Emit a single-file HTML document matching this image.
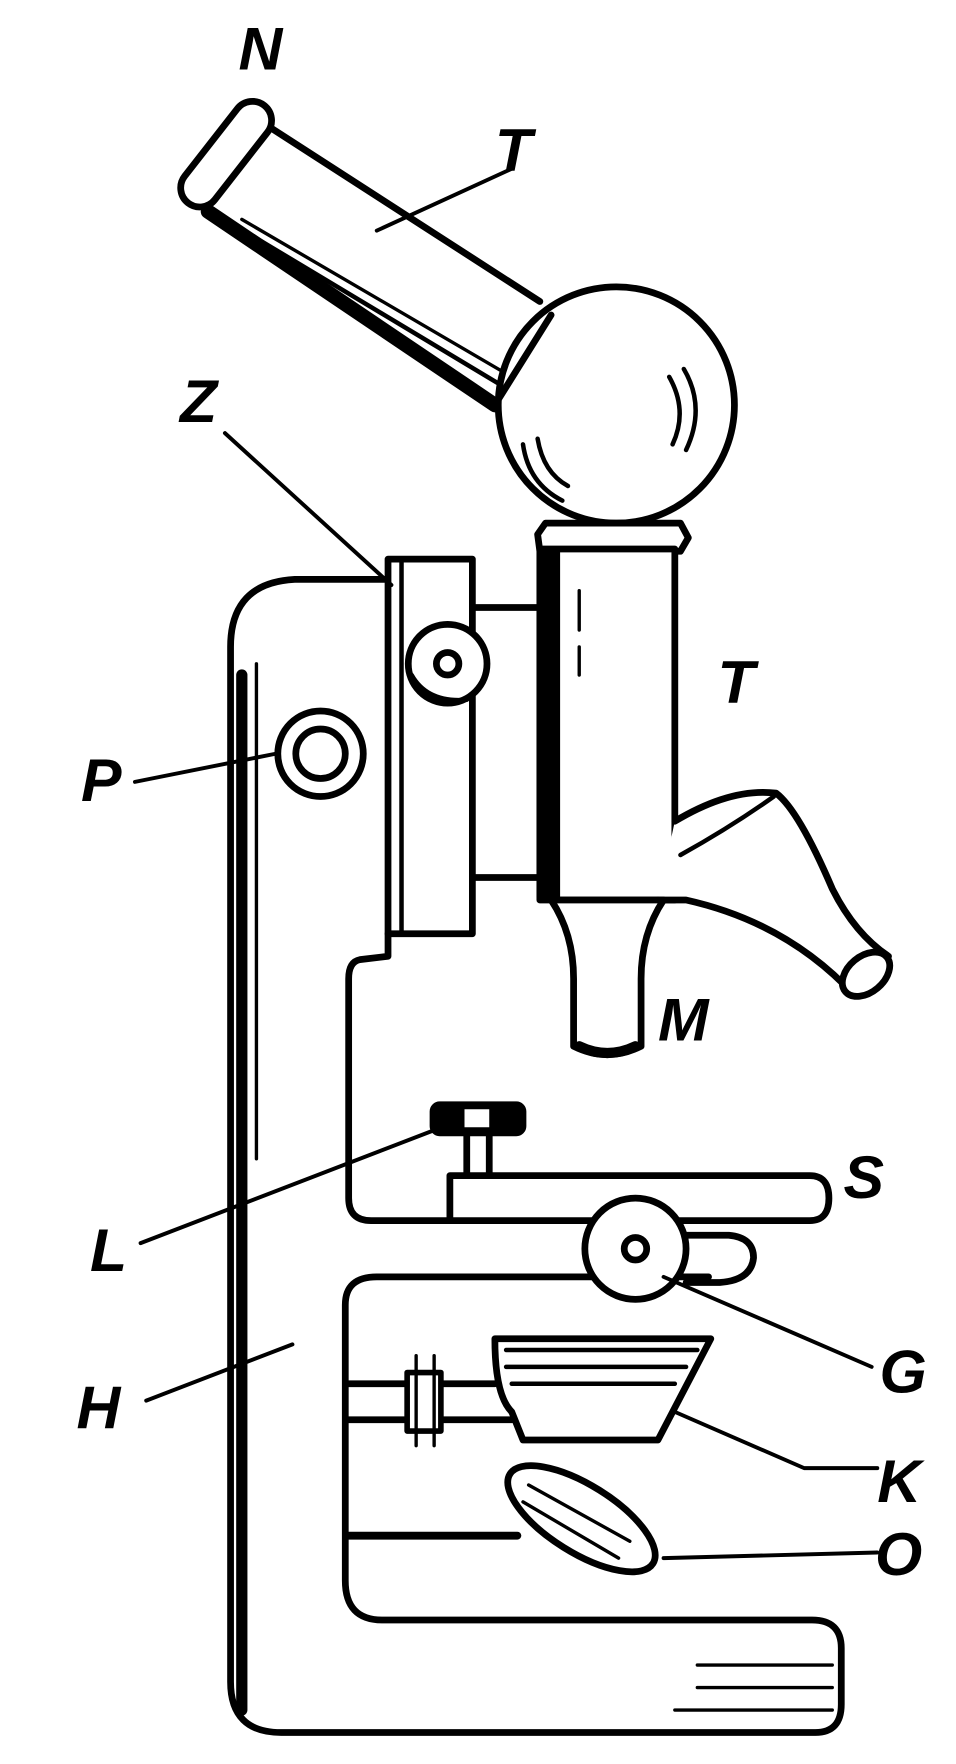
<!DOCTYPE html>
<html><head><style>
html,body{margin:0;padding:0;background:#fff;}
svg{display:block;}
text{font-family:"Liberation Sans",sans-serif;font-style:italic;font-weight:bold;font-size:54px;fill:#000;}
</style></head><body>
<svg width="956" height="1764" viewBox="0 0 850 1568" preserveAspectRatio="none" xmlns="http://www.w3.org/2000/svg">
<g fill="none" stroke="#000" stroke-width="6" stroke-linejoin="round" stroke-linecap="round">
<!-- eyepiece tube -->
<path d="M232,108 L480,268" />
<path d="M185,188 L440,360" stroke-width="13"/>
<path d="M200,195 L450,345" stroke-width="4"/>
<path d="M215,195 L455,335" stroke-width="3"/>
<rect x="148" y="122" width="110" height="34" rx="17" transform="rotate(-52 200 140)" fill="#fff"/>
<!-- head -->
<circle cx="548" cy="360" r="105" fill="#fff"/>
<path d="M440,360 L490,280" />
<path d="M465,395 Q470,430 500,445" stroke-width="4"/>
<path d="M478,390 Q483,420 505,432" stroke-width="4"/>
<path d="M595,335 Q612,365 598,395" stroke-width="4"/>
<path d="M608,328 Q628,362 610,400" stroke-width="4"/>
<!-- collar -->
<path d="M478,475 L485,465 L605,465 L612,478 L605,490 L480,490 Z" fill="#fff"/>
<!-- body tube -->
<rect x="480" y="488" width="120" height="312" fill="#fff"/>
<rect x="480" y="490" width="15" height="308" fill="#000"/>
<path d="M515,525 L515,560 M515,575 L515,600" stroke-width="3"/>
<!-- nose arm -->
<path d="M600,730 Q650,700 690,705 Q710,720 740,790 Q760,830 790,850 L760,885 Q700,820 610,800 L585,800" fill="#fff"/>
<ellipse cx="770" cy="866" rx="24" ry="16" transform="rotate(-40 770 866)" fill="#fff"/>
<path d="M605,760 Q650,735 688,708" stroke-width="4"/>
<!-- objective -->
<path d="M490,800 L590,800 Q570,830 570,870 L570,930 Q540,945 510,930 L510,870 Q510,830 490,800 Z" fill="#fff"/>
<path d="M515,930 Q540,942 565,930" stroke-width="9"/>
<!-- stand H -->
<path d="M345,515 L262,515 Q205,518 205,575 L205,1495 Q205,1540 250,1540 L725,1540 Q748,1540 748,1515 L748,1465 Q748,1440 722,1440 L340,1440 Q307,1440 307,1405 L307,1160 Q307,1135 335,1135 L630,1135"/>
<path d="M215,600 L215,1520" stroke-width="10"/>
<path d="M228,590 L228,1030" stroke-width="3"/>
<path d="M620,1480 L740,1480 M620,1500 L740,1500 M600,1520 L740,1520" stroke-width="3"/>
<path d="M345,830 L345,850 L320,853 Q310,855 310,870 L310,1065 Q310,1085 330,1085 L400,1085"/>
<!-- arm block Z -->
<rect x="345" y="497" width="75" height="333" fill="#fff"/>
<path d="M357,500 L357,828" stroke-width="4"/>
<path d="M420,540 L480,540 M420,780 L480,780"/>
<circle cx="398" cy="590" r="35" fill="#fff"/>
<circle cx="398" cy="590" r="10"/>
<path d="M366,600 Q380,625 415,622" stroke-width="4"/>
<!-- pinion P -->
<circle cx="285" cy="670" r="38" fill="#fff"/>
<circle cx="285" cy="670" r="22"/>
<!-- stage S -->
<path d="M400,1085 L400,1045 L720,1045 Q737,1045 737,1065 Q737,1085 720,1085 L400,1085"/>
<path d="M610,1098 L648,1098 Q670,1100 670,1118 Q668,1138 640,1140 L610,1140"/>
<circle cx="565" cy="1110" r="45" fill="#fff"/>
<circle cx="565" cy="1110" r="10"/>
<!-- clip L -->
<rect x="385" y="982" width="80" height="25" rx="6" fill="#000"/>
<rect x="412" y="985" width="24" height="18" fill="#fff" stroke-width="2"/>
<path d="M415,1007 L415,1045 M435,1007 L435,1045"/>
<!-- condenser K -->
<path d="M310,1230 L440,1230 M310,1262 L455,1262"/>
<rect x="362" y="1220" width="30" height="52" fill="#fff" stroke-width="5"/>
<path d="M370,1205 L370,1285 M386,1205 L386,1285" stroke-width="3"/>
<path d="M440,1190 L632,1190 L585,1280 L465,1280 L455,1255 Q440,1240 440,1190 Z" fill="#fff"/>
<path d="M450,1200 L620,1200 M450,1215 L610,1215 M455,1230 L600,1230" stroke-width="4"/>
<!-- mirror O -->
<path d="M310,1365 L460,1365" stroke-width="7"/>
<ellipse cx="517" cy="1350" rx="75" ry="30" transform="rotate(32 517 1350)" fill="#fff"/>
<path d="M470,1320 L560,1370 M465,1335 L550,1385" stroke-width="3"/>
<!-- leaders -->
<g stroke-width="3.5">
<path d="M455,150 L335,205"/>
<path d="M200,385 L348,520"/>
<path d="M120,695 L245,670"/>
<path d="M125,1105 L385,1005"/>
<path d="M130,1245 L260,1195"/>
<path d="M590,1135 L775,1215"/>
<path d="M600,1255 L715,1305 L780,1305"/>
<path d="M590,1385 L780,1380"/>
</g>
</g>
<g>
<text x="212" y="62">N</text>
<text x="440" y="152">T</text>
<text x="160" y="375">Z</text>
<text x="72" y="712">P</text>
<text x="638" y="625">T</text>
<text x="585" y="925">M</text>
<text x="80" y="1130">L</text>
<text x="750" y="1065">S</text>
<text x="68" y="1270">H</text>
<text x="782" y="1238">G</text>
<text x="780" y="1335">K</text>
<text x="778" y="1400">O</text>
</g>
</svg>
</body></html>
